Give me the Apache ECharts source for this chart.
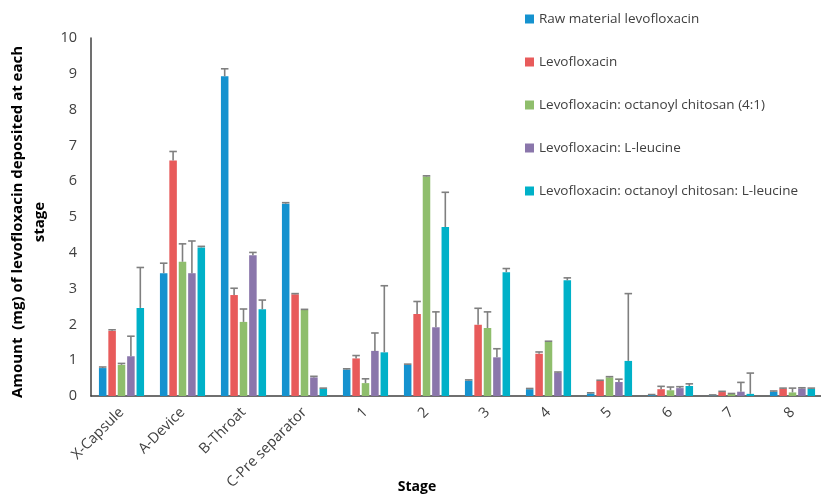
<!DOCTYPE html>
<html>
<head>
<meta charset="utf-8">
<script src="https://cdn.jsdelivr.net/npm/echarts@6/dist/echarts.min.js"></script>
<style>html,body{margin:0;padding:0;background:#fff}#c{width:821px;height:494px}</style>
</head>
<body>
<div id="c"></div>
<script>
const categories = ['X-Capsule','A-Device','B-Throat','C-Pre separator','1','2','3','4','5','6','7','8'];
const seriesNames = ['Raw material levofloxacin','Levofloxacin','Levofloxacin: octanoyl chitosan (4:1)','Levofloxacin: L-leucine','Levofloxacin: octanoyl chitosan: L-leucine'];
const raw     = [0.78, 3.43, 8.93, 5.37, 0.74, 0.87, 0.43, 0.19, 0.07, 0.03, 0.02, 0.12];
const rawErr  = [0.03, 0.28, 0.21, 0.03, 0.02, 0.02, 0.02, 0.02, 0.02, 0.01, 0.01, 0.02];
const levo    = [1.82, 6.58, 2.82, 2.84, 1.05, 2.29, 1.99, 1.18, 0.42, 0.19, 0.11, 0.20];
const levoErr = [0.03, 0.25, 0.19, 0.02, 0.08, 0.35, 0.46, 0.05, 0.02, 0.08, 0.02, 0.02];
const chit    = [0.87, 3.75, 2.07, 2.40, 0.36, 6.13, 1.90, 1.51, 0.52, 0.16, 0.06, 0.10];
const chitErr = [0.04, 0.50, 0.36, 0.02, 0.12, 0.02, 0.45, 0.02, 0.02, 0.09, 0.01, 0.12];
const leu     = [1.11, 3.43, 3.93, 0.52, 1.26, 1.92, 1.08, 0.65, 0.39, 0.22, 0.12, 0.21];
const leuErr  = [0.56, 0.90, 0.08, 0.03, 0.50, 0.43, 0.24, 0.02, 0.08, 0.04, 0.26, 0.02];
const both    = [2.46, 4.15, 2.42, 0.21, 1.22, 4.72, 3.46, 3.23, 0.98, 0.28, 0.06, 0.20];
const bothErr = [1.13, 0.03, 0.26, 0.01, 1.86, 0.97, 0.10, 0.07, 1.88, 0.06, 0.58, 0.02];
const yTicks = [0,1,2,3,4,5,6,7,8,9,10];

const colors = ['#1592CF','#E85B5B','#8FBE6C','#8A76AB','#00B1C8'];
const values = [raw, levo, chit, leu, both];
const errors = [rawErr, levoErr, chitErr, leuErr, bothErr];
const N = 5, GAP = 0.25, CATGAP = 0.26;

const series = [];
values.forEach((vals, i) => {
  series.push({
    name: seriesNames[i], type: 'bar', data: vals,
    itemStyle: {color: colors[i]},
    barGap: (GAP*100)+'%', barCategoryGap: (CATGAP*100)+'%'
  });
});
values.forEach((vals, i) => {
  series.push({
    type: 'custom', silent: true, z: 5,
    data: vals.map((v, k) => [k, v, errors[i][k]]),
    renderItem: function(params, api) {
      const x = api.value(0), v = api.value(1), e = api.value(2);
      const base = api.coord([x, v]);
      const top = api.coord([x, v + e]);
      const catW = api.size([1, 0])[0];
      const bw = catW * (1 - CATGAP) / (N + (N - 1) * GAP);
      const cx = base[0] + (i - (N - 1) / 2) * bw * (1 + GAP);
      const half = bw * 0.5;
      const st = {stroke: '#7F7F7F', lineWidth: 1.6};
      return {type: 'group', children: [
        {type: 'line', shape: {x1: cx, y1: base[1], x2: cx, y2: top[1]}, style: st},
        {type: 'line', shape: {x1: cx - half, y1: top[1], x2: cx + half, y2: top[1]}, style: st}
      ]};
    }
  });
});

const chart = echarts.init(document.getElementById('c'));
chart.setOption({
  animation: false,
  textStyle: {fontFamily: 'Open Sans'},
  legend: {
    data: seriesNames, orient: 'vertical', left: 520, top: 7,
    itemWidth: 9, itemHeight: 9, itemGap: 29, icon: 'rect',
    textStyle: {fontSize: 13.5, color: '#404040', fontFamily: 'Open Sans'}
  },
  graphic: [{
    type: 'text', x: 29, y: 222, rotation: Math.PI / 2,
    style: {
      text: 'Amount  (mg) of levofloxacin deposited at each\nstage',
      font: 'bold 15px "Open Sans"', fill: '#000', lineHeight: 22,
      align: 'center', verticalAlign: 'middle'
    }
  }, {
    type: 'text', x: 417, y: 487,
    style: {
      text: 'Stage', font: 'bold 14px "Open Sans"', fill: '#000',
      align: 'center', verticalAlign: 'middle'
    }
  }],
  grid: {left: 91, right: -2, top: 38, bottom: 98, containLabel: false, outerBoundsMode: 'none'},
  xAxis: {
    type: 'category', data: categories,
    axisLine: {lineStyle: {color: '#404040', width: 1.5}},
    axisTick: {show: false},
    axisLabel: {rotate: 45, fontSize: 14.5, color: '#404040', margin: 14, interval: 0}
  },
  yAxis: {
    type: 'value', min: 0, max: 10, interval: 1,
    axisLine: {show: true, lineStyle: {color: '#404040', width: 1.5}},
    axisTick: {show: false},
    splitLine: {show: false},
    axisLabel: {fontSize: 14.5, color: '#404040', margin: 14,
      formatter: v => yTicks.includes(v) ? String(v) : ''}
  },
  series: series
});
</script>
</body>
</html>
